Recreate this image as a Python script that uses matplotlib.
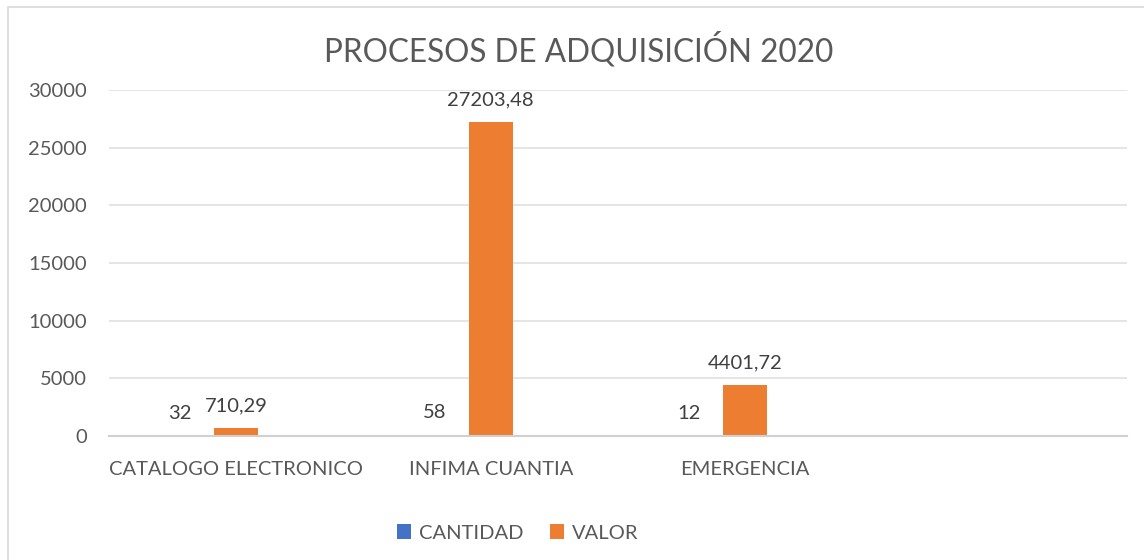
import numpy as np
import matplotlib.pyplot as plt
from matplotlib.patches import Rectangle

# data
categorias = ["CATALOGO ELECTRONICO", "INFIMA CUANTIA", "EMERGENCIA", ""]
cantidad = [32, 58, 12, np.nan]
valor = [710.29, 27203.48, 4401.72, np.nan]
series = ["CANTIDAD", "VALOR"]
titulo = "PROCESOS DE ADQUISICIÓN 2020"

azul = '#4472C4'
naranja = '#ED7D31'
gris = '#595959'

plt.rcParams['font.family'] = ['Lato', 'DejaVu Sans']

W, H = 1144, 560
fig = plt.figure(figsize=(W / 100, H / 100), dpi=100)

# chart area border (only left/top are visible in the crop)
fig.patches.append(Rectangle((8 / W, -0.1), 1.2, 1 - 7 / H + 0.1, transform=fig.transFigure,
                             fill=False, edgecolor='#d9d9d9', lw=1.2))

ax = fig.add_axes([109 / W, 1 - 436 / H, (1127 - 109) / W, (436 - 90) / H])

x = np.arange(len(categorias))
w = 0.173
# excel left a third (empty) slot on the right, so VALOR sits on the category centre
b1 = ax.bar(x - w, cantidad, w, color=azul, label=series[0])
b2 = ax.bar(x, valor, w, color=naranja, label=series[1])

def fmt(v):
  if np.isnan(v):
    return ''
  if float(v).is_integer():
    return '%d' % v
  return ('%.2f' % v).replace('.', ',')

for xi, v in zip(x - w, cantidad):
  if not np.isnan(v):
    ax.annotate(fmt(v), (xi, v), xytext=(-9, 10), textcoords='offset points',
                ha='center', va='bottom', fontsize=14.5, color='#404040')
ax.bar_label(b2, labels=[fmt(v) for v in valor], padding=10, fontsize=14.5, color='#404040')

ax.set_xlim(-0.5, len(categorias) - 0.5)
ax.set_ylim(0, 30000)
ax.set_yticks(np.arange(0, 30001, 5000))
ax.set_xticks(x)
ax.set_xticklabels(categorias)
ax.tick_params(axis='both', length=0, labelsize=14.5, colors=gris)
ax.tick_params(axis='y', pad=16)
ax.tick_params(axis='x', pad=18)

ax.grid(True, axis='y', color='#e0e0e0', lw=1.2)
ax.set_axisbelow(True)
for s in ['top', 'right', 'left']:
  ax.spines[s].set_visible(False)
ax.spines['bottom'].set_color('#d0d0d0')
ax.spines['bottom'].set_linewidth(1.5)

fig.text(579 / W, 1 - 50 / H, titulo, ha='center', va='center', fontsize=22.7, color=gris)

fig.legend(handles=[b1, b2], labels=series, loc='center', bbox_to_anchor=(518 / W, 1 - 533 / H),
           ncol=2, frameon=False, fontsize=14.5, labelcolor=gris, handlelength=0.7, handleheight=0.7,
           handletextpad=0.4, columnspacing=1.3)

fig.savefig('out.png', dpi=100, facecolor='white')
